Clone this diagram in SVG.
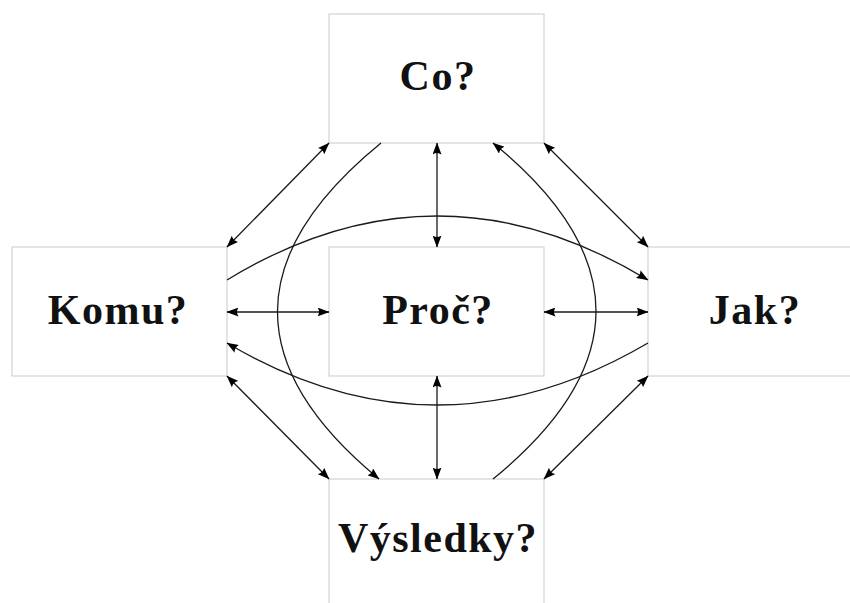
<svg xmlns="http://www.w3.org/2000/svg" width="850" height="603" viewBox="0 0 850 603">
  <defs>
    <marker id="head" viewBox="0 0 12 9" refX="11.5" refY="4.5" markerWidth="12" markerHeight="9" markerUnits="userSpaceOnUse" orient="auto-start-reverse">
      <path d="M0,0 Q3,4.5 0,9 L12,4.5 Z" fill="#000"/>
    </marker>
  </defs>
  <style>
    .box { fill: #fff; stroke: #d2d2d2; stroke-width: 1.2; }
    .lbl { font-family: "Liberation Serif", "DejaVu Serif", serif; font-weight: bold; font-size: 42px; letter-spacing: 1.5px; fill: #111; text-anchor: middle; }
    .edge { fill: none; stroke: #1a1a1a; stroke-width: 1.3; }
    .both { marker-start: url(#head); marker-end: url(#head); }
    .end { marker-end: url(#head); }
  </style>
  <rect width="850" height="603" fill="#fff"/>

  <g id="co">
    <rect class="box" x="329" y="14" width="215" height="129"/>
    <text class="lbl" x="438" y="90">Co?</text>
  </g>
  <g id="komu">
    <rect class="box" x="12" y="247" width="215" height="129"/>
    <text class="lbl" x="118" y="324">Komu?</text>
  </g>
  <g id="proc">
    <rect class="box" x="329" y="247" width="215" height="129"/>
    <text class="lbl" x="438" y="324">Proč?</text>
  </g>
  <g id="jak">
    <rect class="box" x="648" y="247" width="215" height="129"/>
    <text class="lbl" x="755" y="324">Jak?</text>
  </g>
  <g id="vysledky">
    <rect class="box" x="329" y="479" width="215" height="140"/>
    <text class="lbl" x="438" y="552">Výsledky?</text>
  </g>

  <g id="connectors">
    <!-- straight two-way links -->
    <line class="edge both" x1="227" y1="247" x2="329" y2="143"/>
    <line class="edge both" x1="544" y1="143" x2="648" y2="247"/>
    <line class="edge both" x1="227" y1="376" x2="329" y2="479"/>
    <line class="edge both" x1="544" y1="479" x2="648" y2="376"/>
    <line class="edge both" x1="437" y1="143" x2="437" y2="247"/>
    <line class="edge both" x1="437" y1="376" x2="437" y2="479"/>
    <line class="edge both" x1="227" y1="312" x2="329" y2="312"/>
    <line class="edge both" x1="544" y1="312" x2="648" y2="312"/>
    <!-- curved one-way links -->
    <path class="edge end" d="M227,280 Q437,152 648,280"/>
    <path class="edge end" d="M648,343 Q437,467 227,343"/>
    <path class="edge end" d="M381,143 Q175,311 379,479"/>
    <path class="edge end" d="M493,479 Q699,311 493,143"/>
  </g>
</svg>
